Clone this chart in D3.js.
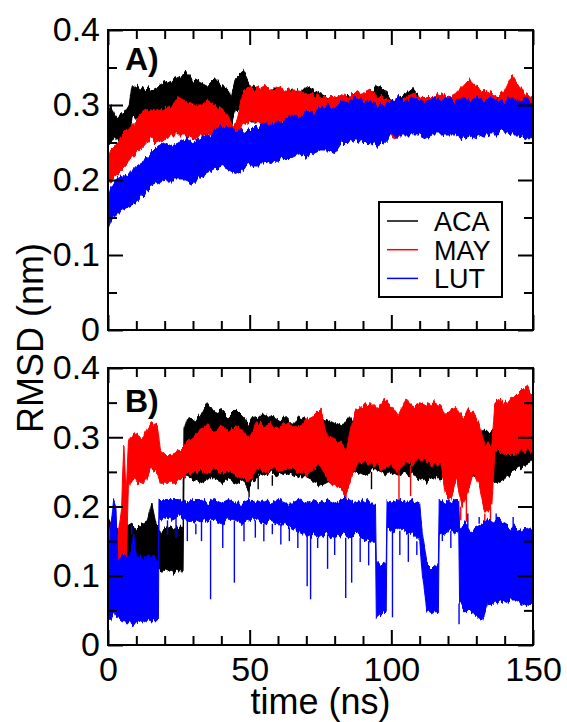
<!DOCTYPE html>
<html>
<head>
<meta charset="utf-8">
<script src="https://cdn.jsdelivr.net/npm/d3@7"></script>
<style>
  body { margin: 0; background: #fff; }
  svg { display: block; font-family: "Liberation Sans", Arial, sans-serif; }
  .tick line { stroke: #000; stroke-width: 2; }
  .tick text { font-size: 34px; fill: #000; }
  .domain { display: none; }
</style>
</head>
<body>
<svg id="chart" width="567" height="722"></svg>
<script>
// ----------------------------
// DATA  ([time ns, low, high] of each noisy trace)
// ----------------------------
const seriesNames = ["ACA", "MAY", "LUT"];
const seriesColors = ["#000000", "#ff0000", "#0000ff"];
const xTicks = [0, 50, 100, 150];
const yTicks = [0, 0.1, 0.2, 0.3, 0.4];

const acaA = [
  [0,.245,.285],[1,.25,.30],[2.5,.255,.285],[4,.25,.285],[6,.258,.29],[7.5,.26,.30],[8.5,.28,.33],
  [10,.285,.32],[12.5,.28,.325],[15,.285,.32],[17.5,.29,.325],[20,.285,.33],[22.5,.295,.335],
  [25,.30,.34],[27.5,.295,.345],[30,.30,.335],[32.5,.295,.33],[35,.29,.325],[37.5,.29,.335],
  [40,.29,.325],[42.5,.28,.32],[43.5,.27,.31],[45,.29,.335],[47.5,.295,.345],[50,.28,.325],
  [52.5,.28,.32],[55,.275,.315],[57.5,.275,.32],[60,.275,.32],[62.5,.28,.315],[65,.28,.32],
  [67.5,.28,.315],[70,.285,.325],[72.5,.285,.32],[75,.28,.315],[77.5,.275,.31],[80,.27,.31],
  [82.5,.27,.31],[85,.27,.31],[87.5,.275,.31],[90,.27,.315],[92.5,.275,.31],[95,.275,.325],
  [97.5,.27,.32],[100,.275,.305],[102.5,.27,.31],[105,.275,.315],[107.5,.275,.323],[110,.27,.31],
  [112.5,.265,.30],[115,.27,.305],[117.5,.27,.305],[120,.275,.31],[122.5,.275,.31],[125,.275,.315],
  [127.5,.27,.31],[130,.275,.31],[132.5,.275,.31],[135,.27,.305],[137.5,.275,.31],[140,.27,.31],
  [142.5,.275,.31],[145,.27,.305],[147.5,.27,.305],[150,.265,.305]
];
const mayA = [
  [0,.195,.23],[1,.20,.24],[2.5,.205,.245],[5,.215,.26],[7.5,.225,.27],[10,.235,.28],[12.5,.245,.29],
  [15,.255,.295],[17.5,.25,.29],[20,.255,.295],[22.5,.26,.30],[25,.26,.31],[27.5,.26,.305],
  [30,.255,.30],[32.5,.26,.30],[35,.26,.305],[37.5,.26,.30],[40,.26,.295],[42.5,.25,.285],
  [44,.243,.27],[45.5,.25,.28],[47.5,.275,.315],[50,.28,.325],[52.5,.275,.32],[55,.275,.325],
  [57.5,.27,.32],[60,.275,.325],[62.5,.275,.32],[65,.27,.32],[67.5,.275,.32],[70,.27,.315],
  [72.5,.275,.315],[75,.265,.31],[77.5,.26,.31],[80,.265,.31],[82.5,.26,.315],[85,.265,.31],
  [87.5,.255,.32],[90,.26,.315],[92.5,.26,.32],[95,.265,.31],[97.5,.26,.31],[100,.26,.305],
  [102.5,.255,.305],[105,.27,.31],[107.5,.27,.315],[110,.27,.31],[112.5,.275,.31],[115,.27,.31],
  [117.5,.27,.315],[120,.275,.31],[122.5,.275,.315],[125,.285,.325],[127.5,.29,.335],[130,.285,.325],
  [132.5,.28,.32],[135,.28,.315],[137.5,.275,.31],[140,.28,.32],[142.5,.29,.34],[145,.285,.325],
  [147.5,.275,.315],[150,.27,.31]
];
const lutA = [
  [0,.135,.175],[1,.145,.19],[2.5,.15,.20],[5,.16,.205],[7.5,.165,.21],[10,.17,.22],[12.5,.18,.225],
  [15,.19,.235],[17.5,.195,.245],[20,.20,.25],[22.5,.20,.245],[25,.20,.25],[27.5,.20,.255],
  [30,.195,.25],[32.5,.205,.255],[35,.21,.26],[37.5,.215,.265],[40,.22,.27],[42.5,.215,.27],
  [45,.21,.265],[47.5,.215,.265],[50,.22,.27],[52.5,.22,.27],[55,.22,.275],[57.5,.225,.275],
  [60,.225,.28],[62.5,.23,.28],[65,.23,.285],[67.5,.235,.285],[70,.23,.29],[72.5,.235,.29],
  [75,.24,.295],[77.5,.24,.30],[80,.235,.295],[82.5,.25,.305],[85,.25,.305],[87.5,.255,.31],
  [90,.25,.305],[92.5,.25,.305],[95,.245,.30],[97.5,.25,.30],[100,.26,.305],[102.5,.26,.31],
  [105,.26,.305],[107.5,.26,.31],[110,.26,.305],[112.5,.255,.305],[115,.26,.31],[117.5,.26,.305],
  [120,.26,.31],[122.5,.26,.305],[125,.255,.31],[127.5,.26,.305],[130,.255,.31],[132.5,.26,.305],
  [135,.26,.31],[137.5,.26,.305],[140,.265,.305],[142.5,.26,.31],[145,.26,.305],[147.5,.255,.31],
  [150,.255,.30]
];

const acaB = [
  [0,.12,.18],[2,.11,.17],[4,.11,.165],[6,.115,.17],[8,.12,.175],[10,.115,.17],[12,.12,.175],
  [14,.115,.18],[15.5,.12,.205],[17,.11,.175],[19,.105,.165],[21,.11,.17],[23,.105,.165],
  [25,.11,.17],[26.5,.11,.17],[26.8,.24,.31],[28,.245,.33],[30,.24,.325],[32.5,.235,.33],
  [35,.24,.35],[37.5,.24,.335],[40,.235,.34],[42.5,.24,.33],[45,.235,.34],[47.5,.24,.33],
  [49.5,.225,.32],[51,.235,.33],[52.5,.24,.325],[55,.245,.335],[57.5,.25,.33],[60,.245,.325],
  [62.5,.25,.33],[65,.245,.32],[67.5,.24,.33],[70,.24,.325],[72.5,.235,.325],[75,.23,.33],
  [77.5,.235,.325],[80,.24,.32],[82.5,.245,.315],[85,.245,.33],[87.5,.25,.32],[90,.245,.315],
  [92.5,.25,.32],[95,.25,.315],[97.5,.245,.32],[100,.25,.31],[102.5,.245,.315],[105,.25,.31],
  [107.5,.245,.315],[110,.24,.31],[112.5,.235,.315],[115,.24,.31],[117.5,.24,.32],[120,.245,.31],
  [122.5,.25,.31],[125,.245,.305],[127.5,.25,.31],[130,.245,.315],[132.5,.24,.31],[135,.235,.31],
  [137.5,.235,.305],[140,.24,.31],[142.5,.25,.31],[145,.255,.315],[147.5,.26,.32],[150,.265,.32]
];
const mayB = [
  [0,.10,.15],[1.5,.095,.19],[3,.10,.14],[4.8,.10,.20],[5.6,.12,.29],[6.4,.10,.22],[7.2,.23,.29],
  [8,.24,.30],[10,.235,.305],[12.5,.23,.30],[13.5,.24,.31],[15,.255,.32],[17.5,.25,.315],
  [18.5,.235,.28],[20,.235,.275],[22.5,.235,.275],[25,.235,.28],[27.5,.245,.29],[30,.25,.30],
  [32.5,.255,.31],[35,.25,.315],[37.5,.255,.31],[40,.25,.315],[42.5,.25,.31],[45,.245,.315],
  [47.5,.24,.31],[50,.235,.30],[52.5,.255,.32],[55,.25,.315],[57.5,.255,.32],[60,.25,.315],
  [62.5,.255,.32],[65,.255,.315],[67.5,.25,.32],[70,.245,.325],[72.5,.255,.33],[75,.26,.34],
  [77.5,.24,.30],[80,.23,.295],[82.5,.225,.29],[84,.215,.28],[86,.24,.32],[87.5,.26,.34],
  [90,.265,.345],[92.5,.26,.35],[95,.26,.34],[97.5,.255,.355],[100,.26,.345],[102.5,.25,.33],
  [105,.265,.355],[107.5,.26,.345],[110,.27,.35],[112.5,.265,.345],[115,.26,.35],[117.5,.26,.345],
  [119,.22,.33],[121,.21,.34],[123,.24,.345],[125,.20,.33],[127,.22,.34],[129,.25,.335],
  [131,.23,.32],[133,.19,.29],[135.5,.20,.29],[136.5,.28,.35],[137.5,.28,.355],[140,.275,.35],
  [142.5,.275,.355],[145,.28,.365],[147.5,.28,.375],[150,.28,.36]
];
const lutB = [
  [0,.04,.10],[1,.04,.17],[2,.05,.21],[2.8,.04,.20],[3.5,.04,.12],[5,.035,.13],[7.5,.035,.125],
  [9,.03,.16],[10,.035,.13],[12.5,.03,.125],[15,.035,.13],[17.8,.035,.125],[18,.18,.21],
  [20,.185,.21],[22.5,.18,.21],[25,.185,.21],[27.5,.18,.205],[30,.18,.21],[32.5,.175,.21],
  [35,.18,.205],[37.5,.18,.21],[40,.175,.205],[42.5,.18,.21],[45,.18,.205],[47.5,.175,.205],
  [50,.18,.21],[52.5,.18,.205],[55,.175,.21],[57.5,.18,.205],[60,.175,.21],[62.5,.175,.205],
  [65,.17,.205],[67.5,.165,.21],[70,.155,.205],[72.5,.16,.21],[75,.155,.205],[77.5,.16,.21],
  [80,.155,.205],[82.5,.16,.21],[85,.155,.21],[87.5,.16,.205],[90,.155,.21],[92.5,.15,.205],
  [94.4,.15,.205],[94.7,.04,.12],[96,.045,.115],[98.2,.05,.12],[98.5,.17,.21],[100,.165,.205],
  [102.5,.17,.21],[105,.165,.205],[107.5,.16,.21],[110,.15,.205],[111,.10,.16],[112.5,.05,.12],
  [115,.045,.11],[116.6,.045,.12],[116.9,.16,.21],[120,.165,.205],[122.5,.165,.21],[123.8,.16,.21],
  [124.1,.06,.17],[126,.05,.175],[128,.05,.165],[130,.04,.17],[132,.035,.175],[134,.06,.18],
  [136,.06,.175],[138,.065,.18],[140,.06,.175],[142,.065,.17],[144,.065,.17],[146,.06,.165],
  [148,.055,.17],[150,.06,.165]
];

// single-frame excursions: [time ns, value]
const acaBSpikes = [[26.6,.20],[49.8,.213],[53,.225],[58,.23],[93,.225],[121,.22]];
const mayBSpikes = [[49.5,.236],[84,.205],[102.7,.205],[106.8,.215],[120.5,.195],[124.5,.18],[126.5,.178],[133,.177],[135,.18]];
const lutBSpikes = [[21,.16],[24,.155],[28,.15],[31,.16],[33,.15],[36.2,.066],[40.5,.14],[44.6,.09],
  [48,.15],[52,.155],[55,.15],[58,.16],[61,.145],[64,.15],[67,.14],[70.3,.085],[71.5,.066],[74,.14],
  [77.5,.11],[80,.13],[83.9,.068],[86,.09],[89,.12],[92,.115],[100.4,.04],[103,.13],[106,.12],
  [109,.13],[118,.15],[121,.14],[123.9,.03],[127,.19],[131,.185],[137,.19],[143,.185],[8.4,.172]];

// ----------------------------
// LAYOUT
// ----------------------------
const svg = d3.select("#chart");
const left = 108, right = 533;
const panels = [
  { top: 30, bottom: 330, label: "A)", series: [acaA, mayA, lutA], spikes: [[], [], []], xLabels: false },
  { top: 368, bottom: 645, label: "B)", series: [acaB, mayB, lutB], spikes: [acaBSpikes, mayBSpikes, lutBSpikes], xLabels: true }
];

// vertical-only jitter so the filled envelopes get the ragged edge of a dense trace
const defs = svg.append("defs");
[3, 11, 27].forEach((seed, i) => {
  const f = defs.append("filter").attr("id", "rough" + i)
    .attr("filterUnits", "userSpaceOnUse")
    .attr("x", 0).attr("y", 0).attr("width", 567).attr("height", 722)
    .attr("color-interpolation-filters", "sRGB");
  f.append("feTurbulence").attr("type", "fractalNoise")
    .attr("baseFrequency", "0.3 0.02").attr("numOctaves", 3).attr("seed", seed).attr("result", "n");
  f.append("feColorMatrix").attr("in", "n").attr("type", "matrix")
    .attr("values", "0 0 0 0 0.5  0 1 0 0 0  0 0 0 0 0  0 0 0 0 1").attr("result", "m");
  f.append("feDisplacementMap").attr("in", "SourceGraphic").attr("in2", "m")
    .attr("scale", 11).attr("xChannelSelector", "R").attr("yChannelSelector", "G");
});

const x = d3.scaleLinear().domain([0, 150]).range([left, right]);
const minorX = d3.range(0, 151, 10).filter(d => d % 50 !== 0);
const minorY = [0.05, 0.15, 0.25, 0.35];
const fmtY = d => d === 0 ? "0" : d.toFixed(1);

panels.forEach((p, pi) => {
  const y = d3.scaleLinear().domain([0, 0.4]).range([p.bottom, p.top]);
  const g = svg.append("g");

  // traces
  const area = d3.area().x(d => x(d[0])).y0(d => y(d[1])).y1(d => y(d[2]));
  const bis = d3.bisector(d => d[0]).left;
  p.series.forEach((data, si) => {
    g.append("path")
      .datum(data)
      .attr("d", area)
      .attr("fill", seriesColors[si])
      .attr("stroke", seriesColors[si])
      .attr("stroke-width", 1)
      .attr("filter", `url(#rough${si})`);

    p.spikes[si].forEach(s => {
      const i = Math.min(bis(data, s[0]), data.length - 1);
      const base = s[1] < data[i][1] ? data[i][1] : data[i][2];
      g.append("line")
        .attr("x1", x(s[0])).attr("x2", x(s[0]))
        .attr("y1", y(base)).attr("y2", y(s[1]))
        .attr("stroke", seriesColors[si])
        .attr("stroke-width", 1.4);
    });
  });

  // ticks, inward on all four sides
  const ax = (gen, tx, ty) => g.append("g").attr("transform", `translate(${tx},${ty})`).call(gen);
  ax(d3.axisBottom(x).tickValues(xTicks).tickSize(-15).tickSizeOuter(0).tickPadding(12)
      .tickFormat(p.xLabels ? d3.format("d") : ""), 0, p.bottom);
  ax(d3.axisBottom(x).tickValues(minorX).tickSize(-9).tickSizeOuter(0).tickFormat(""), 0, p.bottom);
  ax(d3.axisTop(x).tickValues(xTicks).tickSize(-15).tickSizeOuter(0).tickFormat(""), 0, p.top);
  ax(d3.axisTop(x).tickValues(minorX).tickSize(-9).tickSizeOuter(0).tickFormat(""), 0, p.top);
  ax(d3.axisLeft(y).tickValues(yTicks).tickSize(-15).tickSizeOuter(0).tickPadding(8).tickFormat(fmtY), left, 0);
  ax(d3.axisLeft(y).tickValues(minorY).tickSize(-9).tickSizeOuter(0).tickFormat(""), left, 0);
  ax(d3.axisRight(y).tickValues(yTicks).tickSize(-15).tickSizeOuter(0).tickFormat(""), right, 0);
  ax(d3.axisRight(y).tickValues(minorY).tickSize(-9).tickSizeOuter(0).tickFormat(""), right, 0);

  g.append("rect")
    .attr("x", left).attr("y", p.top)
    .attr("width", right - left).attr("height", p.bottom - p.top)
    .attr("fill", "none").attr("stroke", "#000").attr("stroke-width", 2);

  g.append("text")
    .attr("x", 125).attr("y", p.top + (pi === 0 ? 40 : 44))
    .attr("font-size", 32).attr("font-weight", "bold")
    .text(p.label);
});

// legend (panel A)
const leg = svg.append("g");
leg.append("rect")
  .attr("x", 379).attr("y", 202).attr("width", 123).attr("height", 95)
  .attr("fill", "#fff").attr("stroke", "#000").attr("stroke-width", 2);
seriesNames.forEach((name, i) => {
  const cy = 221 + i * 28.7;
  leg.append("line")
    .attr("x1", 387).attr("x2", 418).attr("y1", cy).attr("y2", cy)
    .attr("stroke", seriesColors[i]).attr("stroke-width", 1.5);
  leg.append("text")
    .attr("x", 434).attr("y", cy + 10)
    .attr("font-size", 27)
    .text(name);
});

// axis titles
svg.append("text")
  .attr("x", (left + right) / 2).attr("y", 714)
  .attr("text-anchor", "middle").attr("font-size", 36)
  .text("time (ns)");
svg.append("text")
  .attr("transform", "translate(43,338) rotate(-90)")
  .attr("text-anchor", "middle").attr("font-size", 36)
  .text("RMSD (nm)");
</script>
</body>
</html>
